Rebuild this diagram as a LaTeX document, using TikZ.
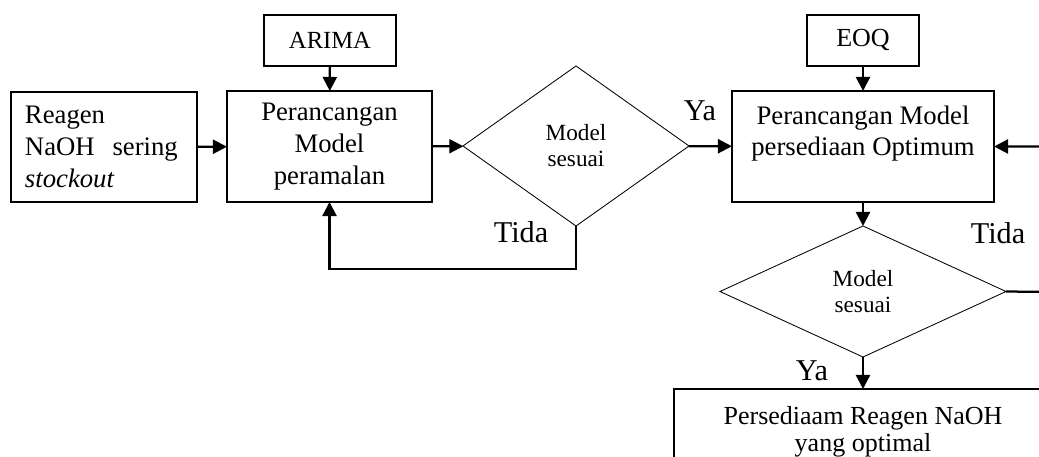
\documentclass[tikz,border=0pt]{standalone}
\usepackage{fontspec}
\setmainfont{Liberation Serif}
\usetikzlibrary{shapes.geometric,arrows.meta}

\begin{document}
\begin{tikzpicture}[x=0.025cm, y=-0.025cm,
  block/.style={
    rectangle,
    draw,
    line width=0.9pt,
    inner sep=0pt,
    outer sep=0pt,
    font=\fontsize{19}{22.5}\selectfont,
    align=center
  },
  decision/.style={
    diamond,
    draw,
    line width=0.6pt,
    inner sep=0pt,
    outer sep=0pt,
    font=\fontsize{16.5}{18.5}\selectfont,
    align=center
  },
  answer/.style ={font=\fontsize{21.5}{24}\selectfont, inner sep=0pt},
  flow/.style ={line width=1.6pt, -{Triangle[length=0.35cm,width=0.35cm]}}]
  \useasboundingbox (0,0) rectangle (1039,457);
  \clip (0,0) rectangle (1039,457);
  % first row
  \node[block, font=\fontsize{17.5}{21}\selectfont, minimum width=3.3cm, minimum height=1.275cm] (arima) at (330,40.5) {ARIMA};
  \node[block, font=\fontsize{18.5}{21}\selectfont, minimum width=2.8cm, minimum height=1.275cm] (eoq) at (863,40.5) {EOQ};
  % second row
  \node[block, align=left, text width=3.95cm, minimum width=4.65cm, minimum height=2.75cm] (reagen) at (104,147) {Reagen\\NaOH~ sering\\\textit{stockout}};
  \node[block, minimum width=5.125cm, minimum height=2.775cm] (peramalan) at (329.5,146.5) {Perancangan\\Model\\peramalan};
  \node[decision, minimum width=5.65cm, minimum height=4cm] (sesuai1) at (576,146) {Model\\sesuai};
  \node[block, minimum width=6.55cm, minimum height=2.775cm] (persediaan) at (863,146.5) {Perancangan Model\\persediaan Optimum\\~};
  % third row
  \node[decision, minimum width=7.15cm, minimum height=3.275cm] (sesuai2) at (863,291.5) {Model\\sesuai};
  \node[block, font=\fontsize{18.5}{19}\selectfont, minimum width=9.45cm, minimum height=2.15cm] (hasil) at (863,432) {Persediaam Reagen NaOH\\yang optimal};
  \coordinate (balik) at (1050,292);
  % labels
  \node[answer] (tida1) at (521,232) {Tida};
  \node[answer] (ya1) at (700,111) {Ya};
  \node[answer] (tida2) at (998,233) {Tida};
  \node[answer] (ya2) at (812,371) {Ya};
  % arrows
  \draw[flow] (arima) -- (peramalan);
  \draw[flow] (eoq) -- (persediaan);
  \draw[flow] (reagen) -- (peramalan);
  \draw[flow] (peramalan) -- (sesuai1);
  \draw[flow] (sesuai1) -- (persediaan);
  \draw[flow] (sesuai1.south) -- ++(0,43) -| (peramalan.south);
  \draw[flow] (persediaan.south) -- (sesuai2.north);
  \draw[flow] (sesuai2.south) -- (hasil.north);
  \draw[flow] (sesuai2.east) -- (balik) |- (persediaan.east);
\end{tikzpicture}
\end{document}
